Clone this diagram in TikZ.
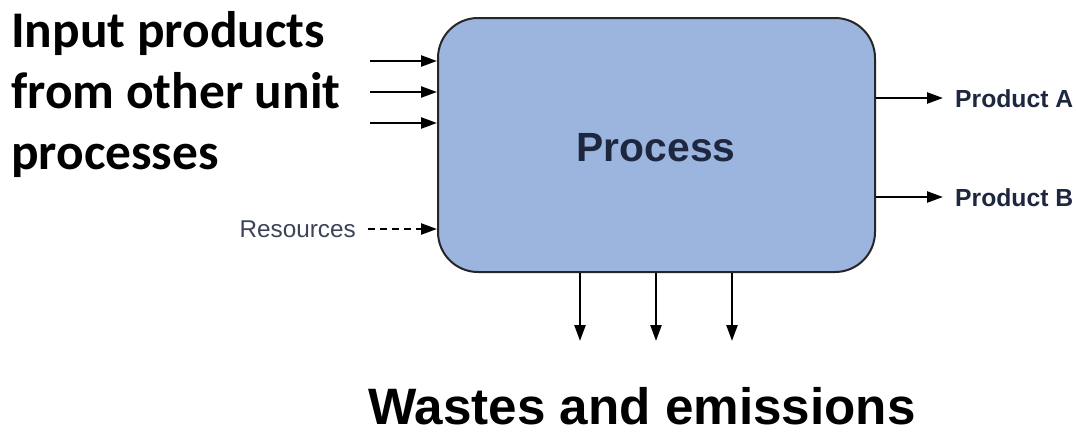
\documentclass[tikz,border=0pt]{standalone}
\usepackage{fontspec}
\setmainfont{Liberation Sans}
\newfontfamily\calib{Carlito}
\usetikzlibrary{arrows.meta}
\definecolor{boxfill}{HTML}{9BB5DE}
\definecolor{navy}{HTML}{1E2740}
\definecolor{slate}{HTML}{3C4458}
\tikzset{
  flow/.style={line width=2.4pt, -{Triangle[length=16pt,width=11pt]}},
  dflow/.style={flow, dash pattern=on 7pt off 5pt},
  outlabel/.style={font=\fontsize{24.7}{24.7}\selectfont\bfseries, text=navy, anchor=west, inner sep=0pt},
}
\begin{document}
\begin{tikzpicture}[x=1pt,y=-1pt]
\useasboundingbox (0,0) rectangle (1076,434);

% central process box
\node[draw=black!85, line width=2pt, fill=boxfill, rounded corners=40pt,
      minimum width=437pt, minimum height=254pt, inner sep=0pt] (proc) at (656.5,145) {};
\node[font=\fontsize{40.8}{40.8}\selectfont\bfseries, text=navy] (plabel) at (656,148) {Process};

% input products
\node[font=\calib\fontsize{51.4}{61}\selectfont\bfseries, align=left, anchor=north west, inner sep=0pt]
  (inlabel) at (11,11) {Input products\\from other unit\\processes};
\foreach \y/\n in {61/i1,92/i2,123/i3}{
  \coordinate (\n) at (370,\y);
  \draw[flow] (\n) -- (proc.west |- \n);
}

% resources
\node[font=\fontsize{24.3}{24.3}\selectfont, text=slate, anchor=east, inner sep=0pt] (res) at (356,229) {Resources};
\draw[dflow] (res.east) ++(12pt,0) coordinate (r0) -- (proc.west |- r0);

% products
\node[outlabel] (pa) at (955,99) {Product A};
\node[outlabel] (pb) at (955,198) {Product B};
\draw[flow] (proc.east |- pa) ++(0,-1) coordinate (a0) -- ([xshift=-12pt]pa.west |- a0);
\draw[flow] (proc.east |- pb) ++(0,-1) coordinate (b0) -- ([xshift=-12pt]pb.west |- b0);

% wastes and emissions
\foreach \x/\n in {580/w1,656/w2,732/w3}{
  \coordinate (\n) at (\x,341);
  \draw[flow] (proc.south -| \n) -- (\n);
}
\node[font=\fontsize{51.2}{51.2}\selectfont\bfseries, inner sep=0pt] (wlabel) at (642,406) {Wastes and emissions};
\end{tikzpicture}
\end{document}
